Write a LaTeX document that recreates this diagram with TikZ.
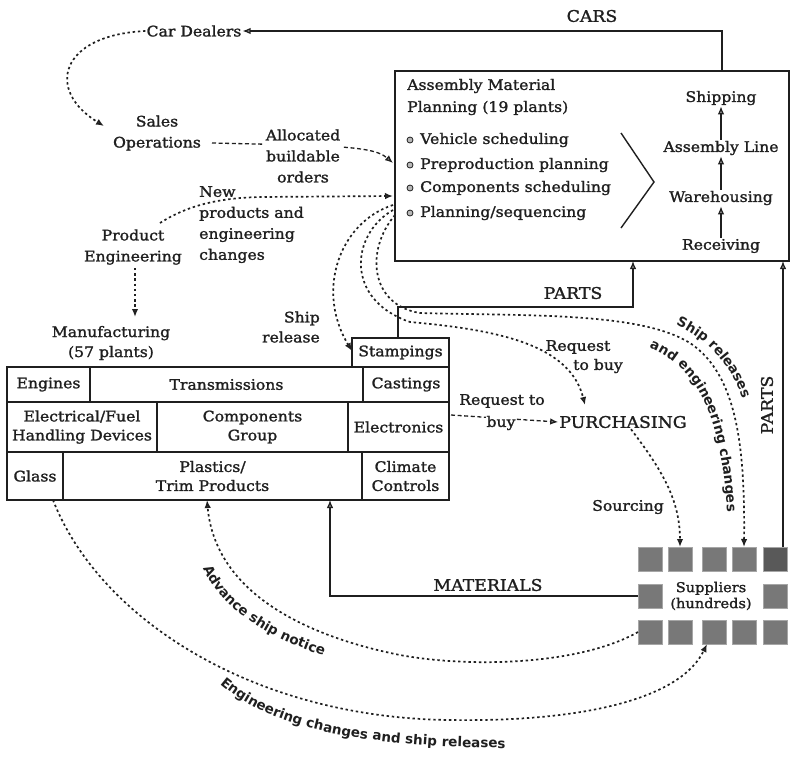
\documentclass[tikz,border=0pt]{standalone}
\usepackage{fontspec}
\setmainfont{DejaVu Serif}[FakeStretch=1.08, FakeBold=1.5]
\newfontfamily\curvefont{DejaVu Sans}
\usetikzlibrary{arrows.meta,decorations.text}
\definecolor{ink}{gray}{0.12}
\definecolor{tipgray}{gray}{0.55}
\definecolor{supgray}{gray}{0.47}
\definecolor{supdark}{gray}{0.35}
\newcommand\fsMain{\fontsize{14.5}{19}\selectfont}
\newcommand\fsBig{\fontsize{16}{19}\selectfont}
\newcommand\fsCurve{\curvefont\bfseries\fontsize{13.5}{16}\selectfont\color{ink}}
\begin{document}
\begin{tikzpicture}[x=1pt, y=-1pt,
  every node/.style={text=ink, font=\fsMain, inner sep=1pt},
  cell/.style={draw=ink, line width=1.1pt, anchor=north west, align=center,
               inner sep=0pt, outer sep=0pt},
  supbox/.style={draw=gray!70, fill=supgray, line width=0.6pt, anchor=north west,
                 minimum width=24pt, minimum height=24pt, inner sep=0pt, outer sep=0pt},
  arr/.style={-{Latex[length=8pt,width=6.5pt,fill=tipgray]}},
  solidline/.style={draw=ink, line width=1.2pt},
  dotline/.style={draw=ink, line width=1.7pt, dash pattern=on 2.4pt off 2.8pt},
  dashline/.style={draw=ink, line width=1.3pt, dash pattern=on 4pt off 2.6pt},
  curvelabel/.style={decorate, decoration={text along path, text align=#1}},
]
\fill[white] (0,0) rectangle (790,772);
\useasboundingbox (0,0) rectangle (790,772);

% ---------- upper left: dealers, sales, engineering ----------
\node (dealers) at (194,31) {Car Dealers};
\node[align=center, font=\fontsize{14.5}{21}\selectfont] (sales) at (157,133) {Sales\\Operations};
\node[align=center, font=\fontsize{14.5}{21}\selectfont] (prodeng) at (133,247) {Product\\Engineering};
\node[align=center, font=\fontsize{14.5}{20}\selectfont] (mfg) at (111,343) {Manufacturing\\(57 plants)};
\node[anchor=north west, align=left, font=\fontsize{14.5}{21}\selectfont] (newprod) at (198,185)
  {New\\products and\\engineering\\changes};
\node[align=right, anchor=east, font=\fontsize{14.5}{20}\selectfont] (shiprel) at (321,327) {Ship\\release};

% ---------- assembly material planning ----------
\node[cell, minimum width=394pt, minimum height=190pt] (amp) at (395,71) {};
\node[anchor=west] (amptitle1) at (406,86) {Assembly Material};
\node[anchor=west] (amptitle2) at (406,108) {Planning (19 plants)};
\foreach \yy/\txt in {140/{Vehicle scheduling}, 165/{Preproduction planning},
                      188/{Components scheduling}, 213/{Planning/sequencing}}{
  \filldraw[draw=ink, fill=gray!55, line width=0.8pt] (410,\yy) circle (3pt);
  \node[anchor=west] at (419,\yy) {\txt};
}
\draw[solidline, line width=1.4pt] (621,133) -- (654,182) -- (621,228);
\node (shipping) at (721,98) {Shipping};
\node (assyline) at (721,148) {Assembly Line};
\node (wareh) at (721,198) {Warehousing};
\node (receiving) at (721,246) {Receiving};
\draw[solidline, arr] (receiving.north) -- (wareh.south);
\draw[solidline, arr] (wareh.north) -- (assyline.south);
\draw[solidline, arr] (assyline.north) -- (shipping.south);

% ---------- manufacturing plants ----------
\node[cell, minimum width=97pt, minimum height=29pt] (stamp) at (352,338) {Stampings};
\node[cell, minimum width=83pt, minimum height=35pt] (engines) at (7,367) {Engines};
\node[cell, minimum width=273pt, minimum height=35pt] (trans) at (90,367) {Transmissions};
\node[cell, minimum width=86pt, minimum height=35pt] (cast) at (363,367) {Castings};
\node[cell, minimum width=150pt, minimum height=50pt] (elecfuel) at (7,402) {Electrical/Fuel\\Handling Devices};
\node[cell, minimum width=191pt, minimum height=50pt] (compgrp) at (157,402) {Components\\Group};
\node[cell, minimum width=101pt, minimum height=50pt] (electronics) at (348,402) {Electronics};
\node[cell, minimum width=56pt, minimum height=48pt] (glass) at (7,452) {Glass};
\node[cell, minimum width=299pt, minimum height=48pt] (plastics) at (63,452) {Plastics/\\Trim Products};
\node[cell, minimum width=87pt, minimum height=48pt] (climate) at (362,452) {Climate\\Controls};

% ---------- purchasing ----------
\node[font=\fsBig] (purch) at (623,422) {PURCHASING};
\node (sourcing) at (628,507) {Sourcing};
\node (rqa) at (578,347) {Request};
\node (rqb) at (598,366) {to buy};
\node (rqc) at (502,401) {Request to};

% ---------- suppliers ----------
\foreach \x [count=\i] in {638,668,702,732,763}{
  \node[supbox] (sa\i) at (\x,547) {};
  \node[supbox] (sc\i) at (\x,620) {};
}
\node[supbox] (sb1) at (638,584) {};
\node[supbox] (sb5) at (763,584) {};
\node[supbox, fill=supdark] (sa5dark) at (763,547) {};
\node[align=center, font=\fontsize{13.5}{16}\selectfont] (suppliers) at (711,596) {Suppliers\\(hundreds)};

% ---------- material and car flows ----------
\coordinate (carsout) at (722,71);
\draw[solidline, arr] (carsout) |- (dealers.east);
\node[font=\fsBig] (carslbl) at (592,16) {CARS};

\coordinate (stamptop) at (398,338);
\coordinate (partsin) at (633,261);
\draw[solidline, arr] (stamptop) -- (398,307) -| (partsin);
\node[font=\fsBig] (partslbl) at (573,293) {PARTS};

\coordinate (suppartsout) at (783,547);
\coordinate (suppartsin) at (783,261);
\draw[solidline, arr] (suppartsout) -- (suppartsin);
\node[font=\fsBig, rotate=90] (partslbl2) at (767,405) {PARTS};

\coordinate (matin) at (330,500);
\draw[solidline, arr] (sb1.west) -- (330,596) -- (matin);
\node[font=\fsBig] (matlbl) at (488,585) {MATERIALS};

% ---------- information flows ----------
\draw[dotline, arr] (dealers.west) .. controls (60,35) and (45,90) .. (104,126);

\coordinate (salesout) at (212,143);
\coordinate (ampin1) at (393,163);
\draw[dashline, arr] (salesout) -- (300,145) .. controls (360,147) and (378,150) .. (ampin1);
\node[align=center, fill=white, inner sep=2pt, font=\fontsize{14.5}{21}\selectfont] (alloc) at (303,156)
  {Allocated\\buildable\\orders};

\coordinate (prodout) at (160,223);
\coordinate (ampin2) at (393,196);
\draw[dotline, arr] (prodout) .. controls (185,207) and (215,198) .. (260,197) -- (ampin2);

\draw[dotline, arr] (135,268) -- (135,317);

\coordinate (ampout1) at (393,205);
\coordinate (ampout2) at (393,210);
\coordinate (ampout3) at (395,215);
\coordinate (stampin) at (352,351);
\draw[dotline, arr] (ampout1) .. controls (340,222) and (315,290) .. (stampin);
\draw[dotline, arr] (ampout2) .. controls (350,235) and (345,300) .. (410,322)
  .. controls (500,330) and (570,345) .. (585,405);
\draw[dotline, arr] (ampout3) .. controls (365,250) and (370,305) .. (420,313)
  .. controls (530,316) and (640,312) .. (690,343)
  .. controls (738,375) and (745,450) .. (sa4.north);

\coordinate (elout) at (451,415);
\draw[dashline, arr] (elout) -- (purch.west);
\node[fill=white, inner sep=0.5pt] (rqd) at (501,423) {buy};

\draw[dotline, arr] ([xshift=8pt]purch.south) .. controls (662,470) and (680,500) .. (sa2.north);

\coordinate (advin) at (207,500);
\draw[dotline, arr] (sc1.west) .. controls (580,665) and (470,668) .. (400,655)
  .. controls (300,635) and (215,590) .. (advin);

\coordinate (glassout) at (53,500);
\draw[dotline, arr] (glassout) .. controls (100,620) and (255,718) .. (450,720)
  .. controls (580,722) and (680,700) .. ([xshift=-7pt]sc3.south);

% ---------- labels along the curved flows ----------
\path[curvelabel=center, decoration={text={|\fsCurve|Ship releases}}]
  (650,316) .. controls (697,328) and (736,358) .. (750,425);
\path[curvelabel=center, decoration={text={|\fsCurve|and engineering changes}}]
  (637,343) .. controls (690,360) and (722,400) .. (728,525);
\path[curvelabel={left indent=8pt}, decoration={text={|\fsCurve|Advance ship notice}}]
  (203,568) .. controls (222,612) and (280,652) .. (395,674);
\path[curvelabel={left indent=6pt}, decoration={text={|\fsCurve|Engineering changes and ship releases}}]
  (220,684) .. controls (280,735) and (380,752) .. (600,748);
\end{tikzpicture}
\end{document}
